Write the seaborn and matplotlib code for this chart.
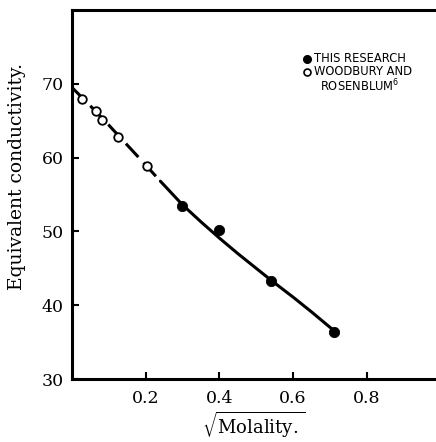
import numpy as np
import pandas as pd
import matplotlib
matplotlib.use("Agg")
import matplotlib.pyplot as plt
import seaborn as sns

# values
open_x = [0.028, 0.066, 0.082, 0.124, 0.203]
open_y = [68.0, 66.3, 65.1, 62.8, 58.9]
filled_x = [0.30, 0.40, 0.54, 0.71]
filled_y = [53.4, 50.2, 43.3, 36.4]

dash_x = [0.0, 0.05, 0.10, 0.15, 0.20, 0.24]
dash_y = [69.5, 67.0, 64.4, 61.7, 59.0, 56.8]
solid_x = [0.24, 0.30, 0.35, 0.40, 0.45, 0.50, 0.54, 0.60, 0.65, 0.71]
solid_y = [56.8, 53.6, 51.3, 49.1, 47.0, 45.0, 43.4, 41.1, 39.1, 36.6]

xticks = [0.2, 0.4, 0.6, 0.8]
yticks = [30, 40, 50, 60, 70]

sns.set_style("ticks", {"axes.edgecolor": "black", "text.color": "black",
                        "xtick.color": "black", "ytick.color": "black",
                        "axes.labelcolor": "black"})
plt.rcParams['font.family'] = ['DejaVu Serif']
plt.rcParams['mathtext.fontset'] = 'dejavuserif'

fig = plt.figure(figsize=(4.36, 4.42), dpi=100)
ax = fig.add_axes([0.165, 0.1425, 0.835, 0.835])

sns.lineplot(x=dash_x, y=dash_y, ax=ax, color='black', lw=2.2,
             linestyle=(0, (6, 2.5)), estimator=None, sort=False)
sns.lineplot(x=solid_x, y=solid_y, ax=ax, color='black', lw=2.2,
             estimator=None, sort=False)
sns.scatterplot(x=open_x, y=open_y, ax=ax, s=38, facecolor='white',
                edgecolor='black', linewidth=1.3, zorder=5)
sns.scatterplot(x=filled_x, y=filled_y, ax=ax, s=55, color='black',
                edgecolor='black', zorder=5)

ax.set_xlim(0, 0.988)
ax.set_ylim(30, 80)
ax.set_xticks(xticks)
ax.set_xticklabels([f"{t:.1f}" for t in xticks])
ax.set_yticks(yticks)
ax.tick_params(direction='in', length=5, width=1.5, labelsize=12.5, pad=8,
               colors='black')
ax.tick_params(axis='y', pad=6)
for s in ['left', 'top', 'bottom']:
    ax.spines[s].set_linewidth(2.2)
    ax.spines[s].set_color('black')
ax.spines['right'].set_visible(False)

ax.set_xlabel(r"$\sqrt{\mathrm{Molality.}}$", fontsize=13, labelpad=2)
ax.set_ylabel("Equivalent conductivity.", fontsize=13.5)
ax.yaxis.set_label_coords(-0.125, 0.55)

# legend as hand-set text, like the original
leg_font = dict(fontsize=8.3, family='DejaVu Sans', va='center')
ax.plot([0.638], [73.4], 'o', ms=5.5, color='black')
ax.text(0.657, 73.4, "THIS RESEARCH", **leg_font)
ax.plot([0.638], [71.6], 'o', ms=5, mfc='white', mec='black', mew=1.2)
ax.text(0.657, 71.6, "WOODBURY AND", **leg_font)
ax.text(0.672, 69.7, r"ROSENBLUM$^{\mathsf{6}}$", **leg_font)

fig.savefig("out.png", dpi=100)
